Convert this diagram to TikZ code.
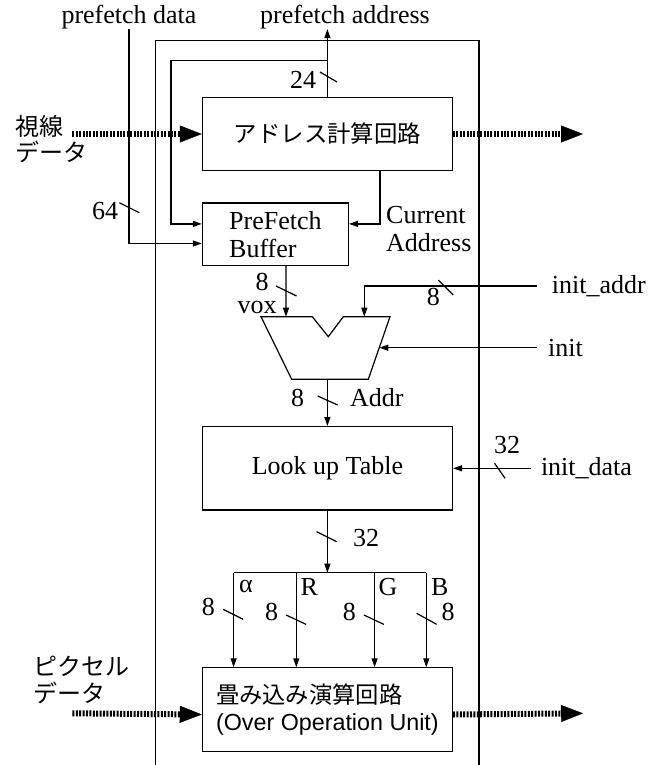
\documentclass[tikz,border=0pt]{standalone}
\usepackage{fontspec}
\setmainfont{Liberation Serif}
\setsansfont{Liberation Sans}
\newfontfamily\jpfont{Noto Sans CJK JP}
\usetikzlibrary{arrows.meta,positioning}

\begin{document}
\begin{tikzpicture}[x=1pt,y=-1pt,
    node distance=15pt,
    box/.style={draw,line width=1.2pt,inner sep=0pt,font=\fontsize{26}{28}\selectfont},
    txt/.style={inner sep=0pt,font=\fontsize{26}{28}\selectfont},
    jptxt/.style={inner sep=0pt,align=left,font=\fontsize{24}{26.5}\selectfont\jpfont},
    wire/.style={line width=1.2pt},
    arrow/.style={wire,-{Triangle[length=9pt,width=6pt]}},
    tick/.style={line width=1.2pt},
    flow/.style={line width=6pt,dash pattern=on 2pt off 1.4pt,
      -{Triangle[length=22pt,width=17pt,line width=0.4pt]}}
  ]
  \useasboundingbox (0,0) rectangle (661,765);
  % chip outline, open at the bottom
  \draw[wire] (155.7,765) -- (155.7,40.5) -- (479,40.5) -- (479,765);

  % blocks
  \node[box,minimum width=250pt,minimum height=73.4pt] (adr) at (327.4,134)
    {\fontsize{23.4}{26}\selectfont\jpfont アドレス計算回路};
  \node[box,minimum width=146pt,minimum height=62.6pt,align=left,
    below=31pt of adr.south west,anchor=north west] (pfb) {PreFetch\\Buffer};
  \node[box,minimum width=250pt,minimum height=83.3pt] (lut) at (327.4,468.3) {Look up Table};
  \node[box,minimum width=250pt,minimum height=83.3pt,align=left,
    font=\fontsize{23.3}{26.7}\selectfont,below=156.7pt of lut] (over)
    {{\jpfont 畳み込み演算回路}\\{\sffamily (Over Operation Unit)}};

  % selector
  \coordinate (mTL) at (261,316.7);
  \coordinate (mN1) at (312.3,316.7);
  \coordinate (mN2) at (328.3,336.7);
  \coordinate (mN3) at (343.3,316.7);
  \coordinate (mTR) at (390,316.7);
  \coordinate (mBR) at (368.3,379.3);
  \coordinate (mBL) at (291.7,379.3);
  \draw[wire] (mTL) -- (mN1) -- (mN2) -- (mN3) -- (mTR) -- (mBR) -- (mBL) -- cycle;
  \coordinate (mA) at (286,316.7);
  \coordinate (mB) at (364.3,316.7);
  \coordinate (mS) at (379.3,347.7);
  \coordinate (mOut) at (327.4,379.3);

  % outside signals
  \node[txt] (pdata) at (129,17) {prefetch data};
  \node[txt] (paddr) at (345,17) {prefetch address};
  \node[jptxt,anchor=west] (gaze) at (15,139) {視線\\データ};
  \node[jptxt,anchor=west] (pix) at (33.7,680) {ピクセル\\データ};
  \coordinate (ia) at (536.7,286);
  \coordinate (in) at (536.7,347.7);
  \coordinate (id) at (531,468.3);
  \node[txt,right=15pt of ia] (iaddr) {init\_addr};
  \node[txt,right=11.3pt of in] (init) {init};
  \node[txt,right=9.8pt of id] (idata) {init\_data};
  \node[txt,align=left,anchor=west] (cur) at (386,229) {Current\\Address};

  % connections
  \coordinate (fb) at (327.4,60.7);
  \coordinate (fbL) at (171,60.7);
  \draw[arrow] (adr.north) -- (adr.north |- paddr.south);
  \draw[arrow] (fb) -- (fbL) |- ([yshift=10.3pt]pfb.west);
  \draw[arrow] (pdata.south) |- ([yshift=-9.3pt]pfb.west);
  \draw[arrow] ([xshift=52.6pt]adr.south) |- ([yshift=10.3pt]pfb.east);
  \draw[arrow] ([xshift=10.5pt]pfb.south) -- (mA);
  \draw[arrow] (ia) -| (mB);
  \draw[arrow] (in) -- (mS);
  \draw[arrow] (mOut) -- (lut.north);
  \draw[arrow] (id) -- (lut.east);
  \coordinate (bus) at (327.4,572.7);
  \coordinate (busL) at (233.6,572.7);
  \coordinate (busR) at (426.3,572.7);
  \draw[arrow] (lut.south) -- (bus);
  \draw[wire] (busL) -- (busR);
  \foreach \x in {233.6,296.3,374.6,426.3}
    \draw[arrow] (\x,572.7) -- (\x,572.7 |- over.north);

  % data flow
  \coordinate (gazein) at (72.4,134);
  \coordinate (gazeout) at (583,134);
  \coordinate (pixin) at (72.4,713.3);
  \coordinate (pixout) at (583,713.3);
  \draw[flow] (gazein) -- (adr.west);
  \draw[flow] (adr.east) -- (gazeout);
  \draw[flow] (pixin) -- ([yshift=-5pt]over.west);
  \draw[flow] ([yshift=-5pt]over.east) -- (pixout);

  % bus widths
  \foreach \x/\y/\dx/\dy in {328.5/77/8.5/5, 129.3/207.7/10/5, 286.3/291/10.3/5,
      327.7/400.5/10/4.5, 326.6/536.7/10/5, 233.2/614.3/10/5, 296.1/619.7/10/4.7,
      373.9/619.7/10/4.7, 426.6/618.8/10/5.5, 445.8/287.5/7.5/7.5, 499.8/470.8/5.25/7.5}
    \draw[tick] ({\x-\dx},{\y-\dy}) -- ({\x+\dx},{\y+\dy});
  \node[txt] (w24) at (303,80) {24};
  \node[txt] (w64) at (105,211) {64};
  \node[txt] (wvox) at (262,281.5) {8};
  \node[txt] (vox) at (257,307.5) {vox};
  \node[txt] (wia) at (433.3,296.7) {8};
  \node[txt] (wad) at (297.7,398.3) {8};
  \node[txt,anchor=west] (addr) at (350,398) {Addr};
  \node[txt] (wid) at (507,445) {32};
  \node[txt] (wlut) at (366,538.3) {32};
  \node[txt] (la) at (246,586.7) {α};
  \node[txt] (lr) at (309.3,586.7) {R};
  \node[txt] (lg) at (388,586.7) {G};
  \node[txt] (lb) at (439.8,586.7) {B};
  \node[txt] (wa) at (208.3,606.7) {8};
  \node[txt] (wr) at (271.5,611.7) {8};
  \node[txt] (wg) at (349.3,611.7) {8};
  \node[txt] (wb) at (448.2,611.7) {8};
\end{tikzpicture}
\end{document}
